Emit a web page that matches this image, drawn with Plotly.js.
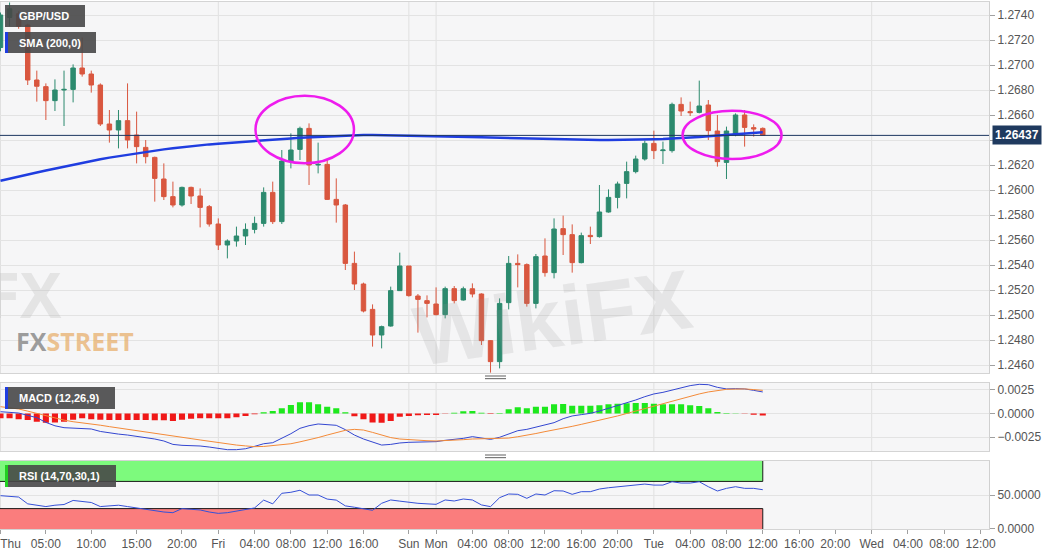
<!DOCTYPE html>
<html><head><meta charset="utf-8">
<script src="https://cdn.plot.ly/plotly-3.0.1.min.js"></script>
<style>html,body{margin:0;padding:0;background:#fff;}#chart{width:1060px;height:555px;}</style>
</head><body><div id="chart"></div>
<script>
// ---- GBP/USD hourly candles ----
const openP  = [1.2714,1.2738,1.2741,1.2732,1.2688,1.26827,1.26715,1.2680,1.26805,1.26976,1.26928,1.2684,1.26528,1.2648,1.26555,1.2644,1.26341,1.26261,1.26088,1.25947,1.2588,1.26021,1.25952,1.25867,1.25728,1.2556,1.25592,1.25632,1.25685,1.25733,1.25981,1.25747,1.26232,1.26325,1.26493,1.2620,1.26205,1.25925,1.2588,1.25413,1.25248,1.25045,1.2484,1.24912,1.25195,1.25392,1.25152,1.25115,1.25088,1.25003,1.25211,1.2512,1.2521,1.25168,1.24795,1.24627,1.25099,1.25413,1.25403,1.25093,1.25472,1.25339,1.25691,1.25643,1.25419,1.25637,1.25627,1.25824,1.25941,1.26053,1.26147,1.26248,1.26373,1.26315,1.26315,1.26685,1.26627,1.26621,1.2668,1.26472,1.26221,1.26448,1.2660,1.26499,1.26493];
const highP  = [1.2742,1.2750,1.2743,1.2733,1.26955,1.26853,1.26885,1.26955,1.27005,1.2722,1.26955,1.26853,1.2664,1.2664,1.26853,1.26627,1.2640,1.26267,1.26213,1.26067,1.26027,1.26027,1.26013,1.2588,1.25773,1.25605,1.25707,1.25733,1.25787,1.26021,1.26067,1.2632,1.26453,1.26507,1.26533,1.26379,1.26245,1.26093,1.25888,1.25507,1.25259,1.25085,1.24915,1.25227,1.25499,1.25392,1.25168,1.25157,1.25221,1.25227,1.25232,1.25227,1.25253,1.25173,1.248,1.25133,1.25472,1.25485,1.25413,1.25488,1.25613,1.25773,1.25795,1.25725,1.25659,1.25707,1.2604,1.26005,1.26067,1.26227,1.26275,1.26395,1.26475,1.26387,1.26699,1.26741,1.26707,1.26875,1.2672,1.2660,1.26507,1.26613,1.2664,1.26525,1.26501];
const lowP   = [1.2711,1.2731,1.2729,1.2684,1.26707,1.2656,1.26632,1.26512,1.26701,1.26907,1.26779,1.26512,1.26379,1.26333,1.26333,1.26213,1.26213,1.25907,1.2592,1.25861,1.25867,1.25888,1.25701,1.25707,1.2552,1.25453,1.25547,1.2556,1.25653,1.25707,1.25728,1.25728,1.26173,1.2624,1.2604,1.26133,1.2592,1.25739,1.2536,1.252,1.25021,1.24747,1.24733,1.24907,1.25195,1.25147,1.24859,1.24981,1.24997,1.24973,1.25093,1.25115,1.25141,1.2476,1.24539,1.24573,1.25045,1.25221,1.25067,1.25053,1.25307,1.25293,1.2548,1.25339,1.25413,1.25568,1.25619,1.25819,1.25853,1.25933,1.26133,1.26235,1.26248,1.26208,1.26299,1.26592,1.26592,1.26613,1.2640,1.26187,1.26088,1.2643,1.26347,1.26427,1.26435];
const closeP = [1.2740,1.2745,1.2731,1.2688,1.2683,1.26715,1.2680,1.26805,1.26976,1.26928,1.2684,1.26528,1.2648,1.26555,1.2640,1.26347,1.26267,1.26093,1.25947,1.2588,1.26021,1.25952,1.25861,1.25728,1.2556,1.25592,1.25632,1.25685,1.25733,1.25981,1.25747,1.26232,1.2632,1.26493,1.2620,1.26205,1.25925,1.2588,1.25413,1.25248,1.25032,1.2484,1.24907,1.25195,1.25392,1.25155,1.25125,1.25093,1.25003,1.25211,1.25115,1.2521,1.25168,1.24795,1.24627,1.25093,1.25413,1.25403,1.25093,1.25467,1.25339,1.25688,1.25643,1.25419,1.25635,1.25627,1.25824,1.25941,1.26048,1.26147,1.26248,1.26373,1.26315,1.2632,1.26685,1.26632,1.26619,1.26672,1.26475,1.26227,1.26472,1.2660,1.26501,1.26488,1.26437];
const sma200 = [1.26074,1.26092,1.26108,1.26124,1.2614,1.26156,1.26172,1.26188,1.26203,1.26218,1.26232,1.26246,1.26259,1.26271,1.26283,1.26294,1.26305,1.26315,1.26325,1.26334,1.26343,1.26351,1.26358,1.26365,1.26371,1.26377,1.26383,1.26388,1.26393,1.26398,1.26403,1.26408,1.26413,1.26418,1.26422,1.26426,1.2643,1.26434,1.26437,1.26439,1.2644,1.2644,1.26439,1.26438,1.26437,1.26436,1.26435,1.26433,1.26431,1.2643,1.26428,1.26426,1.26425,1.26423,1.2642,1.26418,1.26416,1.26414,1.26412,1.2641,1.26408,1.26406,1.26404,1.26402,1.26401,1.264,1.264,1.264,1.264,1.26401,1.26402,1.26404,1.26406,1.26408,1.26411,1.26415,1.26419,1.26424,1.2643,1.26436,1.26441,1.26446,1.26451,1.26456,1.26462];
// ---- MACD (12,26,9) ----
const macdHist = [-0.0005,-0.0005,-0.0006,-0.0007,-0.00087,-0.00097,-0.00094,-0.00087,-0.00065,-0.0005,-0.0006,-0.00065,-0.0007,-0.0007,-0.0007,-0.0007,-0.0007,-0.00072,-0.00072,-0.0008,-0.00065,-0.00055,-0.0005,-0.0005,-0.0005,-0.0005,-0.0004,-0.00026,-0.00009,0.00012,0.00026,0.00055,0.0009,0.00118,0.00118,0.00097,0.00072,0.00055,0.00012,-0.0003,-0.00062,-0.00094,-0.00097,-0.0008,-0.00034,-0.00026,-0.00019,-0.00016,-0.00016,-0.00002,0.00009,0.00023,0.00026,0.00009,-0.00005,0.00005,0.00044,0.00065,0.00055,0.00072,0.00072,0.00097,0.001,0.00083,0.00083,0.00083,0.00086,0.00097,0.00104,0.00108,0.00111,0.00111,0.00104,0.00097,0.00097,0.00097,0.00086,0.00079,0.00055,0.00016,0.00005,0.00002,-0.00002,-0.00012,-0.0002];
const macdLine = [0.00019,0.00012,0.00005,-0.0002,-0.00044,-0.00094,-0.0013,-0.0015,-0.00155,-0.00157,-0.00164,-0.0019,-0.00207,-0.00218,-0.00228,-0.0024,-0.00252,-0.0027,-0.00291,-0.00327,-0.00337,-0.0034,-0.00344,-0.00355,-0.00369,-0.00383,-0.00383,-0.00373,-0.00348,-0.0032,-0.00309,-0.00263,-0.00214,-0.00157,-0.00129,-0.00111,-0.00118,-0.00125,-0.00171,-0.00228,-0.0027,-0.00305,-0.00334,-0.00327,-0.00312,-0.00305,-0.00302,-0.003,-0.00298,-0.00284,-0.00274,-0.00263,-0.00245,-0.00256,-0.00274,-0.00252,-0.00221,-0.00182,-0.00168,-0.00147,-0.00122,-0.00097,-0.00055,-0.00026,-0.00012,0.00002,0.00026,0.00055,0.00083,0.00111,0.00143,0.00178,0.00207,0.00224,0.00249,0.00277,0.00295,0.00309,0.00305,0.00277,0.0026,0.00263,0.0026,0.00245,0.00228];
const signalLine = [0.00072,0.0006,0.00048,0.00025,0.00002,-0.00025,-0.00051,-0.0007,-0.00087,-0.00098,-0.00108,-0.00124,-0.00139,-0.00154,-0.00168,-0.00182,-0.00196,-0.0021,-0.00224,-0.00238,-0.00252,-0.00266,-0.0028,-0.00295,-0.00309,-0.00322,-0.00334,-0.00343,-0.00351,-0.00349,-0.00341,-0.00332,-0.0032,-0.003,-0.0028,-0.00255,-0.00228,-0.00203,-0.00178,-0.00168,-0.00175,-0.002,-0.0023,-0.00255,-0.0027,-0.00278,-0.00284,-0.00288,-0.00291,-0.00288,-0.00284,-0.00277,-0.0027,-0.00268,-0.00267,-0.00264,-0.0026,-0.00246,-0.00231,-0.00212,-0.00192,-0.00175,-0.00157,-0.00136,-0.00115,-0.00094,-0.00072,-0.00049,-0.00026,0.0,0.00026,0.00052,0.00079,0.00108,0.00136,0.0016,0.00185,0.00207,0.00228,0.00242,0.00256,0.00258,0.0026,0.00253,0.00245];
// ---- RSI (14,70,30,1) ----
const rsi = [49,48,47,37,35,33,35,36,42,41,39,33,34,35,33,31,29,26,25,24,30,29,28,25,23,24,26.5,28,31,42.5,37,52.5,54,57,50,50,44,42.5,34,32,30,27.5,37.8,42.7,41,39.3,37.8,37,36.3,42.7,41.2,44.1,42.7,35.4,32.9,46.1,51.5,51,45.1,51.5,50,56.3,55.9,51,54.9,54.9,58.8,60.7,62,63.2,64.6,66.1,64.6,64.6,69.5,67.6,67.6,69.5,62.2,55.9,59.8,62.2,59.8,59.8,57.8];
const rsiUpper = 70, rsiLower = 30;
// ---- time axis (hour slots, weekend gap removed) ----
const tickLabels = ["Thu","05:00","10:00","15:00","20:00","Fri","04:00","08:00","12:00","16:00","Sun","Mon","04:00","08:00","12:00","16:00","20:00","Tue","04:00","08:00","12:00","16:00","20:00","Wed","04:00","08:00","12:00"];
const tickSlots  = [0,5,10,15,20,24,28,32,36,40,45,48,52,56,60,64,68,72,76,80,84,88,92,96,100,104,108];
const daySlots   = [0,24,45,48,72,96];
const priceTicks = [1.2460,1.2480,1.2500,1.2520,1.2540,1.2560,1.2580,1.2600,1.2620,1.2640,1.2660,1.2680,1.2700,1.2720,1.2740];
const macdTicks  = [-0.0025,0,0.0025];
const rsiTicks   = [0,50];
// highlighted zones (slot range, price range)
const highlights = [
  {s0:28.1, s1:38.95, p0:1.26214, p1:1.26754},
  {s0:75.16, s1:86.07, p0:1.26248, p1:1.26634}
];

const n = closeP.length;
const slots = closeP.map((_, i) => i);
const FONT = 'Liberation Sans, Arial, sans-serif';
const W = 989, TOP = 2, BOT = 529;
const px = v => v / W;
const py = v => (BOT - v) / (BOT - TOP);

const traces = [
  {type:'candlestick', x:slots, open:openP, high:highP, low:lowP, close:closeP,
   xaxis:'x', yaxis:'y', whiskerwidth:0, hoverinfo:'skip',
   increasing:{line:{color:'#2c8a6e', width:1}, fillcolor:'#2c8a6e'},
   decreasing:{line:{color:'#d9573f', width:1}, fillcolor:'#d9573f'}},
  {type:'scatter', mode:'lines', x:slots, y:sma200, xaxis:'x', yaxis:'y',
   line:{color:'#1f3de0', width:2.5}, hoverinfo:'skip'},
  {type:'bar', x:slots, y:macdHist, xaxis:'x2', yaxis:'y2',
   marker:{color:macdHist.map(v => v >= 0 ? '#1de81d' : '#f01818'), line:{width:0}}, hoverinfo:'skip'},
  {type:'scatter', mode:'lines', x:slots, y:macdLine, xaxis:'x2', yaxis:'y2',
   line:{color:'#3346d0', width:1}, hoverinfo:'skip'},
  {type:'scatter', mode:'lines', x:slots, y:signalLine, xaxis:'x2', yaxis:'y2',
   line:{color:'#f38a38', width:1}, hoverinfo:'skip'},
  {type:'scatter', mode:'lines', x:slots, y:rsi, xaxis:'x3', yaxis:'y3',
   line:{color:'#3550d8', width:1}, hoverinfo:'skip'}
];

const xRange = [-0.055, 108.93];
const baseX = {range:xRange, showgrid:false, zeroline:false, showline:true, mirror:true,
  linecolor:'#d4d4d4', linewidth:1, fixedrange:true};
const baseY = {side:'right', showgrid:true, gridcolor:'#e3e3e3', zeroline:false, showline:true,
  mirror:true, linecolor:'#d0d0d0', ticks:'outside', ticklen:5, tickcolor:'#a0a0a0',
  tickfont:{family:FONT, size:12, color:'#555'}, tickformat:'.4f', fixedrange:true, automargin:false};

const shapes = [];
[['x','y'],['x2','y2'],['x3','y3']].forEach(([xa, ya]) => {
  daySlots.forEach(d => shapes.push({type:'line', xref:xa, yref:ya + ' domain', x0:d, x1:d, y0:0, y1:1,
    line:{color:'#e0e0e0', width:1}, layer:'below'}));
});
// RSI zones
shapes.push({type:'rect', xref:'x3', yref:'y3', x0:-1, x1:n-1, y0:rsiUpper, y1:100,
  fillcolor:'#7dfa7d', line:{width:0}, layer:'below'});
shapes.push({type:'rect', xref:'x3', yref:'y3', x0:-1, x1:n-1, y0:0, y1:rsiLower,
  fillcolor:'#fa7d7d', line:{width:0}, layer:'below'});
[[rsiUpper, rsiUpper],[rsiLower, rsiLower]].forEach(([a,b]) => shapes.push({type:'line', xref:'x3', yref:'y3',
  x0:-1, x1:n-1, y0:a, y1:b, line:{color:'#1a1a1a', width:1}, layer:'below'}));
shapes.push({type:'line', xref:'x3', yref:'y3', x0:n-1, x1:n-1, y0:rsiUpper, y1:100, line:{color:'#1a1a1a', width:1}, layer:'below'});
shapes.push({type:'line', xref:'x3', yref:'y3', x0:n-1, x1:n-1, y0:0, y1:rsiLower, line:{color:'#1a1a1a', width:1}, layer:'below'});
// last price line
shapes.push({type:'line', xref:'paper', yref:'y', x0:0, x1:1, y0:closeP[n-1], y1:closeP[n-1],
  line:{color:'#1c3660', width:1}, layer:'above'});
// highlight ellipses
highlights.forEach(h => shapes.push({type:'circle', xref:'x', yref:'y', x0:h.s0, x1:h.s1, y0:h.p0, y1:h.p1,
  line:{color:'#ee1cee', width:2.5}, layer:'above'}));
// panel resize handles
[[376,378.6],[455,457.6]].forEach(ys => ys.forEach(yy => shapes.push({type:'line', xref:'paper', yref:'paper',
  x0:px(485), x1:px(506), y0:py(yy), y1:py(yy), line:{color:'#7a7a7a', width:1.2}})));
// label boxes
const boxes = [
  {x0:5, x1:85, y0:5, y1:27, text:'GBP/USD', stripe:null},
  {x0:5, x1:96, y0:32, y1:53, text:'SMA (200,0)', stripe:'#1f3de0'},
  {x0:5, x1:115, y0:387, y1:409, text:'MACD (12,26,9)', stripe:'#1f3de0'},
  {x0:5, x1:116, y0:465, y1:487, text:'RSI (14,70,30,1)', stripe:'#22d022'}
];
const annotations = [];
boxes.forEach(b => {
  shapes.push({type:'rect', xref:'paper', yref:'paper', x0:px(b.x0), x1:px(b.x1), y0:py(b.y1), y1:py(b.y0),
    fillcolor:'rgba(72,72,72,0.9)', line:{width:0}, layer:'above'});
  if (b.stripe) shapes.push({type:'rect', xref:'paper', yref:'paper', x0:px(b.x0), x1:px(b.x0+3), y0:py(b.y1), y1:py(b.y0),
    fillcolor:b.stripe, line:{width:0}, layer:'above'});
  annotations.push({xref:'paper', yref:'paper', x:px(17), y:py((b.y0+b.y1)/2), xanchor:'left', yanchor:'middle',
    text:'<b>' + b.text + '</b>', showarrow:false, font:{family:FONT, size:11, color:'#ffffff'}});
});
// last price tag
annotations.push({xref:'paper', yref:'y', x:px(992), y:closeP[n-1], xanchor:'left', yanchor:'middle',
  text:'<b>' + closeP[n-1].toFixed(5) + '</b>', showarrow:false, bgcolor:'#1f3a5f', borderpad:2,
  font:{family:FONT, size:12, color:'#ffffff'}});
// watermarks
annotations.push({xref:'paper', yref:'paper', x:px(64), y:py(294), xanchor:'right', yanchor:'middle',
  text:'<b>FX</b>', showarrow:false,
  font:{family:'Open Sans, Liberation Sans, sans-serif', size:62, stretch:'condensed', color:'rgba(185,185,185,0.3)'}});
annotations.push({xref:'paper', yref:'paper', x:px(14), y:py(341), xanchor:'left', yanchor:'middle',
  text:'<b><span style="color:rgba(140,140,140,0.85)">FX</span><span style="color:rgba(232,176,110,0.75)">STREET</span></b>',
  showarrow:false, font:{family:'Open Sans, Liberation Sans, sans-serif', size:25, stretch:'condensed'}});
annotations.push({xref:'paper', yref:'paper', x:px(552), y:py(318), xanchor:'center', yanchor:'middle',
  text:'<b>WikiFX</b>', showarrow:false, textangle:-8,
  font:{family:FONT, size:84, color:'rgba(150,150,150,0.17)'}});

const layout = {
  width:1060, height:555, margin:{l:0, r:71, t:TOP, b:555-BOT},
  paper_bgcolor:'#ffffff', plot_bgcolor:'#f6f6f7', showlegend:false, bargap:0.33,
  xaxis: Object.assign({}, baseX, {anchor:'y', showticklabels:false, ticks:'', rangeslider:{visible:false}}),
  xaxis2: Object.assign({}, baseX, {anchor:'y2', showticklabels:false, ticks:''}),
  xaxis3: Object.assign({}, baseX, {anchor:'y3', tickmode:'array', tickvals:tickSlots,
    ticktext:tickLabels.map((t,i) => i === 0 ? '\u00a0\u00a0\u00a0\u00a0\u00a0\u00a0' + t : t),
    ticks:'outside', ticklen:4, tickcolor:'#a0a0a0', ticklabeloverflow:'allow',
    tickfont:{family:FONT, size:12, color:'#555'}}),
  yaxis: Object.assign({}, baseY, {domain:[0.296, 1], range:[1.24536, 1.27504], tickmode:'array', tickvals:priceTicks}),
  yaxis2: Object.assign({}, baseY, {domain:[0.148, 0.2776], range:[-0.00397, 0.00326], tickmode:'array', tickvals:macdTicks}),
  yaxis3: Object.assign({}, baseY, {domain:[0, 0.129], range:[0, 100], tickmode:'array', tickvals:rsiTicks}),
  shapes:shapes, annotations:annotations
};
Plotly.newPlot('chart', traces, layout, {displayModeBar:false, staticPlot:true});
</script></body></html>
